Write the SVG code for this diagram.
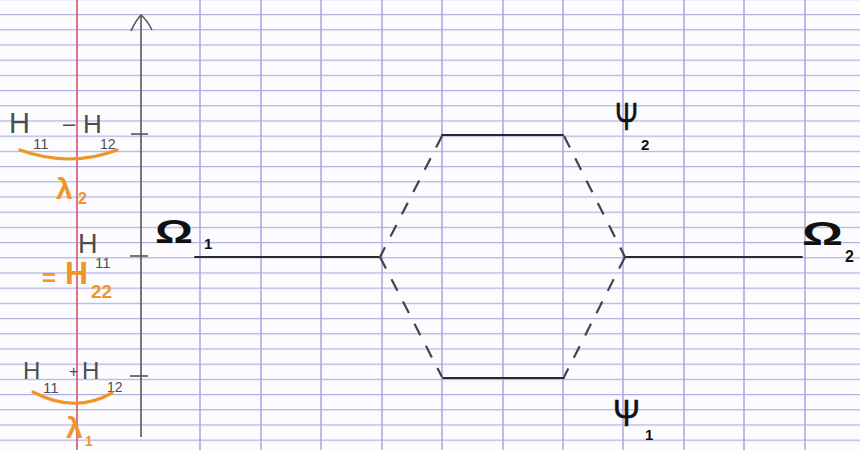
<svg xmlns="http://www.w3.org/2000/svg" width="860" height="450" viewBox="0 0 860 450">
<defs>
<pattern id="hgrid" x="0" y="14" width="860" height="15.2" patternUnits="userSpaceOnUse">
<line x1="0" y1="0.6" x2="860" y2="0.6" stroke="#b0aee3" stroke-width="1.3"/>
</pattern>
<style>
.v{stroke:#a9a6e0;stroke-width:1.5}
.lvl{stroke:#2a2a2a;stroke-width:2;fill:none;stroke-linecap:round}
.dash{stroke:#444;stroke-width:2.2;fill:none;stroke-dasharray:13 12}
.pen{stroke:#555;stroke-width:1.6;fill:none}
.g{font-family:"Liberation Sans",Arial,sans-serif;fill:#4d4d4d}
.k{font-family:"Liberation Sans",Arial,sans-serif;fill:#111;font-weight:bold}
.psi{font-family:"Liberation Sans",Arial,sans-serif;fill:#111;font-weight:normal;stroke:#111;stroke-width:0.6}
.o{font-family:"Liberation Sans",Arial,sans-serif;fill:#f0952a;font-weight:bold}
.arc{stroke:#f0952a;stroke-width:3.2;fill:none;stroke-linecap:round}
</style>
</defs>
<rect width="860" height="450" fill="#fcfcfe"/>
<rect width="860" height="450" fill="url(#hgrid)"/>
<g id="grid">
<line class="v" x1="200" y1="0" x2="200" y2="450"/>
<line class="v" x1="261" y1="0" x2="261" y2="450"/>
<line class="v" x1="321" y1="0" x2="321" y2="450"/>
<line class="v" x1="382" y1="0" x2="382" y2="450"/>
<line class="v" x1="442" y1="0" x2="442" y2="450"/>
<line class="v" x1="503" y1="0" x2="503" y2="450"/>
<line class="v" x1="563" y1="0" x2="563" y2="450"/>
<line class="v" x1="623" y1="0" x2="623" y2="450"/>
<line class="v" x1="684" y1="0" x2="684" y2="450"/>
<line class="v" x1="744" y1="0" x2="744" y2="450"/>
<line class="v" x1="805" y1="0" x2="805" y2="450"/>
<line x1="77" y1="0" x2="77" y2="450" stroke="#d9506e" stroke-width="1.6"/>
</g>
<g id="axis">
<line class="pen" x1="141" y1="437" x2="141" y2="16"/>
<path class="pen" d="M131,31 Q136,20 141,15 Q147,20 152,30"/>
<line class="pen" x1="131" y1="134" x2="148" y2="134"/>
<line class="pen" x1="130" y1="256" x2="148" y2="256"/>
<line class="pen" x1="130" y1="376" x2="148" y2="376"/>
</g>
<g id="label-top">
<text class="g" x="9" y="133" font-size="29">H</text>
<text class="g" x="33" y="149" font-size="15">11</text>
<text class="g" x="63" y="131" font-size="22">–</text>
<text class="g" x="83" y="133" font-size="26">H</text>
<text class="g" x="100" y="149" font-size="14">12</text>
<path class="arc" d="M20,150 Q70,168 117,150"/>
<text class="o" x="56" y="199" font-size="30">λ</text>
<text class="o" x="78" y="204" font-size="16">2</text>
</g>
<g id="label-mid">
<text class="g" x="78" y="253" font-size="27">H</text>
<text class="g" x="95" y="268" font-size="15">11</text>
<text class="o" x="42" y="286" font-size="24">=</text>
<text class="o" x="65" y="284" font-size="32">H</text>
<text class="o" x="91" y="298" font-size="19">22</text>
</g>
<g id="label-bottom">
<text class="g" x="23" y="379" font-size="24">H</text>
<text class="g" x="43" y="393" font-size="15">11</text>
<text class="g" x="69" y="377" font-size="16">+</text>
<text class="g" x="82" y="379" font-size="24">H</text>
<text class="g" x="107" y="392" font-size="14">12</text>
<path class="arc" d="M33,392 Q75,414 112,393"/>
<text class="o" x="66" y="438" font-size="30">λ</text>
<text class="o" x="85" y="446" font-size="14">1</text>
</g>
<g id="omega1">
<line class="lvl" x1="195" y1="257" x2="379" y2="257"/>
<text class="k" x="155" y="243" font-size="34" textLength="38" lengthAdjust="spacingAndGlyphs">Ω</text>
<text class="k" x="204" y="249" font-size="15">1</text>
</g>
<g id="psi2">
<line class="lvl" x1="442" y1="135" x2="563" y2="135"/>
<text class="psi" x="615" y="130" font-size="38" textLength="23" lengthAdjust="spacingAndGlyphs">Ψ</text>
<text class="k" x="641" y="150" font-size="15">2</text>
</g>
<g id="psi1">
<line class="lvl" x1="443" y1="378" x2="564" y2="378"/>
<text class="psi" x="613" y="426" font-size="37" textLength="27" lengthAdjust="spacingAndGlyphs">Ψ</text>
<text class="k" x="645" y="440" font-size="15">1</text>
</g>
<g id="omega2">
<line class="lvl" x1="625" y1="257" x2="802" y2="257"/>
<text class="k" x="802" y="245" font-size="34" textLength="41" lengthAdjust="spacingAndGlyphs">Ω</text>
<text class="k" x="845" y="262" font-size="16">2</text>
</g>
<g id="connectors">
<line class="dash" x1="442" y1="136" x2="380" y2="257"/>
<line class="dash" x1="380" y1="257" x2="442" y2="377"/>
<line class="dash" x1="564" y1="136" x2="625" y2="257"/>
<line class="dash" x1="625" y1="257" x2="564" y2="377"/>
</g>
</svg>
